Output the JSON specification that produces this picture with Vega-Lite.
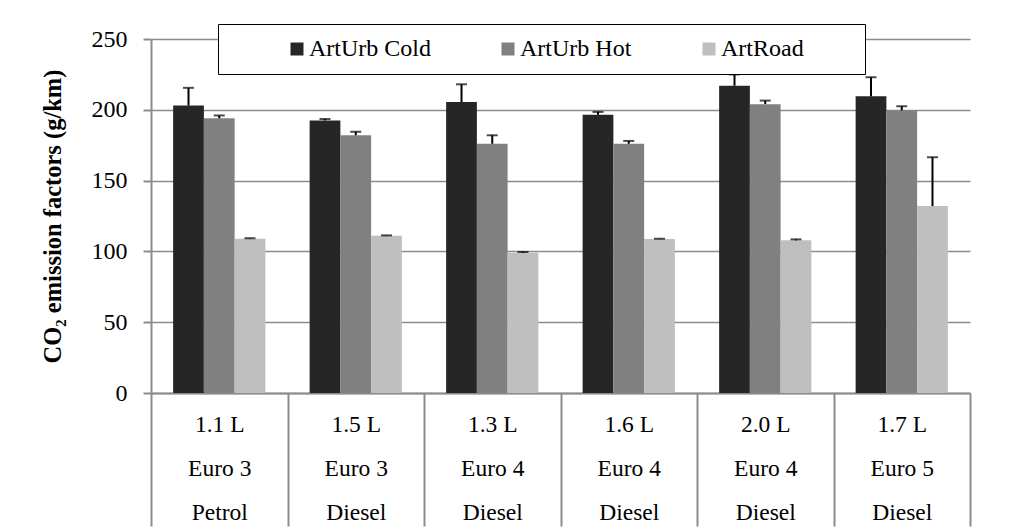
{
  "$schema": "https://vega.github.io/schema/vega-lite/v6.json",
  "width": 819,
  "height": 354,
  "autosize": {"type": "none"},
  "padding": {"left": 151, "top": 39, "right": 49, "bottom": 139},
  "background": "white",
  "config": {
    "font": "Liberation Serif",
    "view": {"stroke": null},
    "axis": {"labelFont": "Liberation Serif", "titleFont": "Liberation Serif"},
    "legend": {"labelFont": "Liberation Serif", "titleFont": "Liberation Serif"}
  },
  "data": {
    "values": [
      {"vehicle": "1.1 L|Euro 3|Petrol", "cycle": "ArtUrb Cold", "co2": 203, "upper": 215.5},
      {"vehicle": "1.1 L|Euro 3|Petrol", "cycle": "ArtUrb Hot", "co2": 194, "upper": 196},
      {"vehicle": "1.1 L|Euro 3|Petrol", "cycle": "ArtRoad", "co2": 109, "upper": 109.3},
      {"vehicle": "1.5 L|Euro 3|Diesel", "cycle": "ArtUrb Cold", "co2": 192.5, "upper": 193.5},
      {"vehicle": "1.5 L|Euro 3|Diesel", "cycle": "ArtUrb Hot", "co2": 182, "upper": 184.5},
      {"vehicle": "1.5 L|Euro 3|Diesel", "cycle": "ArtRoad", "co2": 111, "upper": 111.3},
      {"vehicle": "1.3 L|Euro 4|Diesel", "cycle": "ArtUrb Cold", "co2": 205.5, "upper": 218},
      {"vehicle": "1.3 L|Euro 4|Diesel", "cycle": "ArtUrb Hot", "co2": 176, "upper": 182},
      {"vehicle": "1.3 L|Euro 4|Diesel", "cycle": "ArtRoad", "co2": 99, "upper": 99.6},
      {"vehicle": "1.6 L|Euro 4|Diesel", "cycle": "ArtUrb Cold", "co2": 196.5, "upper": 198.5},
      {"vehicle": "1.6 L|Euro 4|Diesel", "cycle": "ArtUrb Hot", "co2": 176, "upper": 178},
      {"vehicle": "1.6 L|Euro 4|Diesel", "cycle": "ArtRoad", "co2": 108.8, "upper": 109},
      {"vehicle": "2.0 L|Euro 4|Diesel", "cycle": "ArtUrb Cold", "co2": 217, "upper": 225},
      {"vehicle": "2.0 L|Euro 4|Diesel", "cycle": "ArtUrb Hot", "co2": 204, "upper": 206.5},
      {"vehicle": "2.0 L|Euro 4|Diesel", "cycle": "ArtRoad", "co2": 107.8, "upper": 108.5},
      {"vehicle": "1.7 L|Euro 5|Diesel", "cycle": "ArtUrb Cold", "co2": 209.5, "upper": 223},
      {"vehicle": "1.7 L|Euro 5|Diesel", "cycle": "ArtUrb Hot", "co2": 199.5, "upper": 202.5},
      {"vehicle": "1.7 L|Euro 5|Diesel", "cycle": "ArtRoad", "co2": 132, "upper": 166.5}
    ]
  },
  "encoding": {
    "x": {
      "field": "vehicle",
      "type": "nominal",
      "sort": null,
      "scale": {"paddingInner": 0, "paddingOuter": 0},
      "axis": {
        "title": null,
        "labelAngle": 0,
        "grid": false,
        "tickBand": "extent",
        "tickSize": 133,
        "tickColor": "#8c8c8c",
        "tickWidth": 2,
        "domainColor": "#8c8c8c",
        "domainWidth": 2,
        "labelExpr": "split(datum.label, '|')",
        "labelFont": "Liberation Serif",
        "labelFontSize": 23.5,
        "labelColor": "black",
        "labelPadding": -114,
        "labelLineHeight": 44,
        "labelBaseline": "top",
        "labelOverlap": false,
        "labelBound": false
      }
    },
    "xOffset": {
      "field": "cycle",
      "sort": ["ArtUrb Cold", "ArtUrb Hot", "ArtRoad"],
      "scale": {"paddingInner": 0, "paddingOuter": 0.72}
    }
  },
  "layer": [
    {
      "mark": {"type": "bar"},
      "encoding": {
        "y": {
          "field": "co2",
          "type": "quantitative",
          "scale": {"domain": [0, 250], "nice": false},
          "axis": {
            "title": "CO₂ emission factors (g/km)",
            "titleFont": "Liberation Serif",
            "titleFontSize": 24.5,
            "titleFontWeight": "bold",
            "titleColor": "black",
            "titlePadding": 26,
            "values": [0, 50, 100, 150, 200, 250],
            "labelFont": "Liberation Serif",
            "labelFontSize": 24,
            "labelColor": "black",
            "labelPadding": 16,
            "tickSize": 8,
            "tickColor": "#8c8c8c",
            "tickWidth": 2,
            "domainColor": "#8c8c8c",
            "domainWidth": 2,
            "gridColor": "#8c8c8c",
            "gridWidth": 1.5
          }
        },
        "color": {
          "field": "cycle",
          "type": "nominal",
          "scale": {
            "domain": ["ArtUrb Cold", "ArtUrb Hot", "ArtRoad"],
            "range": ["#262626", "#808080", "#bfbfbf"]
          },
          "legend": {
            "title": " ",
            "titleOrient": "right",
            "titlePadding": 48,
            "titleFontSize": 22,
            "orient": "none",
            "legendX": 67,
            "legendY": -15,
            "direction": "horizontal",
            "columns": 3,
            "fillColor": "white",
            "strokeColor": "black",
            "padding": 13,
            "symbolType": "square",
            "symbolSize": 169,
            "symbolStrokeWidth": 0,
            "labelFont": "Liberation Serif",
            "labelFontSize": 24,
            "labelColor": "black",
            "columnPadding": 11,
            "symbolOffset": 54,
            "labelOffset": 0
          }
        }
      }
    },
    {
      "mark": {"type": "rule", "color": "black", "strokeWidth": 2},
      "encoding": {
        "y": {"field": "co2", "type": "quantitative", "title": "CO₂ emission factors (g/km)"},
        "y2": {"field": "upper"}
      }
    },
    {
      "mark": {"type": "tick", "color": "black", "thickness": 2, "size": 11, "orient": "horizontal"},
      "encoding": {
        "y": {"field": "upper", "type": "quantitative", "title": "CO₂ emission factors (g/km)"}
      }
    }
  ]
}
